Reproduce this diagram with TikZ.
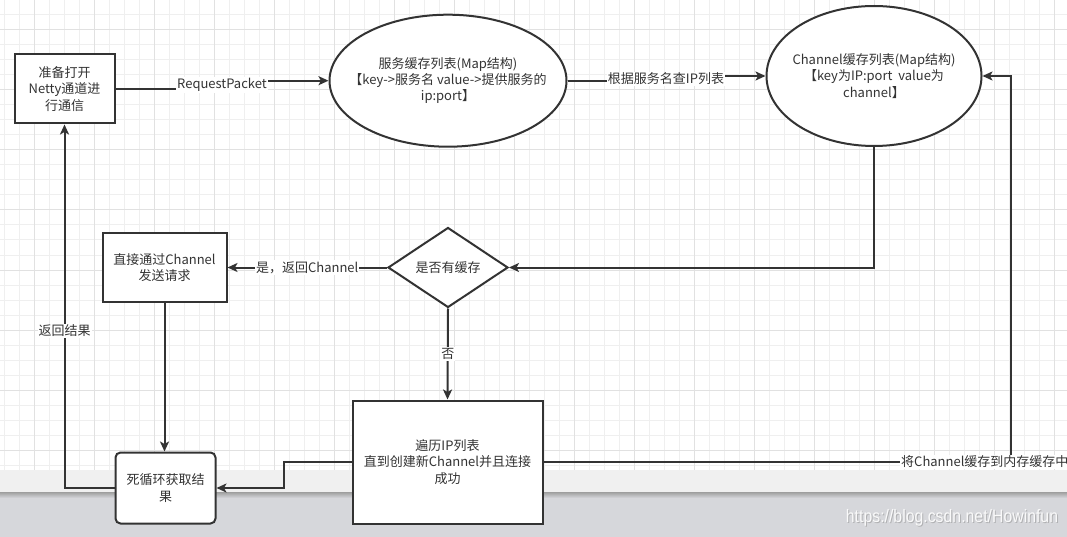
\documentclass[tikz,border=0pt]{standalone}
\usepackage{fontspec}
\setmainfont{Noto Sans CJK SC}
\newfontfamily\wmfont{Liberation Sans}
\usetikzlibrary{shapes.geometric,arrows.meta,calc}
\definecolor{ink}{HTML}{333333}
\definecolor{gridminor}{HTML}{EFEFEF}
\definecolor{gridmajor}{HTML}{E1E1E1}
\definecolor{bandlight}{HTML}{F0F0F0}
\definecolor{banddark}{HTML}{D6D7DB}
\begin{document}
\begin{tikzpicture}[x=1pt,y=-1pt,
  font=\fontsize{13}{16.3}\selectfont,
  box/.style={draw=ink, line width=2pt, fill=white, text=ink, align=center, inner sep=0pt},
  shapeline/.style={draw=ink, line width=2pt, fill=white, inner sep=0pt},
  txt/.style={text=ink, align=center, inner sep=0pt},
  edge/.style={draw=ink, line width=2pt, -{Stealth[length=10pt,width=9pt,inset=2.5pt]}},
  lbl/.style={fill=white, text=ink, inner sep=1pt}]
\useasboundingbox (0,0) rectangle (1067,537);
% background and grid
\fill[white] (0,0) rectangle (1067,537);
\foreach \i in {0,...,71} { \draw[gridminor, line width=1pt] ({4.3+15*\i},0) -- ({4.3+15*\i},470); }
\foreach \j in {1,...,31} { \draw[gridminor, line width=1pt] (0,{15*\j}) -- (1067,{15*\j}); }
\foreach \i in {0,...,17} { \draw[gridmajor, line width=1pt] ({34.3+60*\i},0) -- ({34.3+60*\i},470); }
\foreach \j in {0,...,7} { \draw[gridmajor, line width=1pt] (0,{30+60*\j}) -- (1067,{30+60*\j}); }
% screenshot bands
\fill[bandlight] (0,470) rectangle (1067,492);
\fill[banddark] (0,492) rectangle (1067,537);
\shade[top color=black!38, bottom color=banddark] (0,492) rectangle (1067,498);
% watermark
\node[text=black!45, opacity=0.5, font=\wmfont\fontsize{18}{18}\selectfont, inner sep=0pt] (wms) at (953,519) {\scalebox{0.88}[1]{https://blog.csdn.net/Howinfun}};
\node[text=white, opacity=0.9, font=\wmfont\fontsize{18}{18}\selectfont, inner sep=0pt] (wm) at (952,518) {\scalebox{0.88}[1]{https://blog.csdn.net/Howinfun}};
% nodes
\node[box, minimum width=100pt, minimum height=69pt] (b1) at (64.5,89) {准备打开\\Netty通道进\\行通信};
\node[shapeline, ellipse, minimum width=237pt, minimum height=132pt] (e1) at (448,80.7) {};
\node[txt] (e1t) at (e1.center) {服务缓存列表(Map结构)\\【key->服务名 value->提供服务的\\ip:port】};
\node[shapeline, ellipse, minimum width=215pt, minimum height=140pt] (e2) at (874,76) {};
\node[txt] (e2t) at (e2.center) {Channel缓存列表(Map结构)\\【key为IP:port~ value为\\channel】};
\node[shapeline, diamond, minimum width=120pt, minimum height=80pt] (d) at (448,267.5) {};
\node[txt] (dt) at (d.center) {是否有缓存};
\node[box, minimum width=124pt, minimum height=68pt] (b2) at (164.5,267.5) {直接通过Channel\\发送请求};
\node[box, rounded corners=5pt, minimum width=100pt, minimum height=71pt] (b3) at (165.5,488) {死循环获取结\\果};
\node[box, minimum width=190pt, minimum height=123pt] (b4) at (447.5,462) {遍历IP列表\\直到创建新Channel并且连接\\成功};
% edges
\coordinate (j1) at (222,85);
\draw[edge] (b1.east) -- (b1.east -| j1) -- (j1 |- e1.west) -- (e1.west);
\node[lbl] at (j1) {RequestPacket};
\coordinate (j2) at (666,79);
\draw[edge] (e1.east) -- (e1.east -| j2) -- (j2 |- e2.west) -- (e2.west);
\node[lbl] at (j2) {根据服务名查IP列表};
\draw[edge] (e2.south) |- (d.east);
\draw[edge] (d.west) -- (b2.east) node[lbl, midway] {是，返回Channel};
\draw[edge] (d.south) -- (b4.north) node[lbl, midway] {否};
\draw[edge] (b2.south) -- (b2.south |- b3.north);
\coordinate (c1) at (284,475);
\draw[edge] (b4.west) -| (c1) |- (b3.east);
\draw[edge] (b3.west) -| (b1.south);
\node[lbl] at (64.5,331) {返回结果};
\coordinate (c2) at (1011,270);
\draw[edge] (b4.east) -| (c2) |- (e2.east);
\node[lbl, anchor=west] at (900,462) {将Channel缓存到内存缓存中};
\end{tikzpicture}
\end{document}
